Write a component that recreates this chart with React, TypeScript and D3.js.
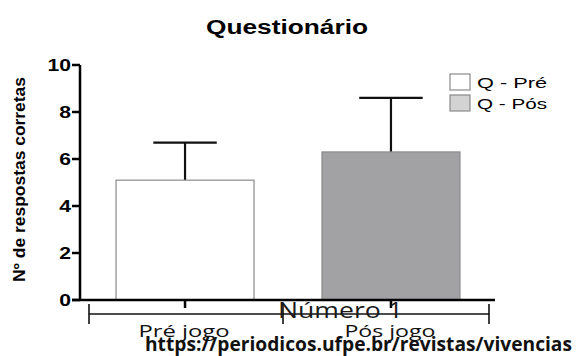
import React from 'react';
import * as d3 from 'd3';

const categories = ['Pré jogo', 'Pós jogo'];
const means = [5.1, 6.3];
const upperErrors = [6.7, 8.6];
const seriesNames = ['Q - Pré', 'Q - Pós'];
const barFills = ['#ffffff', '#a2a2a5'];
const legendFills = ['#ffffff', '#d3d3d3'];
const yTicks = [0, 2, 4, 6, 8, 10];

const W = 577;
const H = 356;
const axisFont = '"Liberation Sans", Arial, sans-serif';
const textFont = '"Open Sans", "Liberation Sans", sans-serif';

export default function App() {
  const y = d3.scaleLinear().domain([0, 10]).range([300, 65]);
  const x = d3
    .scaleBand<string>()
    .domain(categories)
    .range([80, 496])
    .paddingInner(0.33)
    .paddingOuter(0.175);
  const bw = x.bandwidth();
  const capW = bw * 0.46;

  return (
    <svg
      width={W}
      height={H}
      style={{ position: 'absolute', left: 0, top: 0, background: '#fff' }}
    >
      <text
        x={206}
        y={34}
        fontFamily={axisFont}
        fontWeight="bold"
        fontSize={19.5}
        textLength={162}
        lengthAdjust="spacingAndGlyphs"
      >
        Questionário
      </text>

      {/* y axis label */}
      <text
        transform={`translate(25,${(77 + 282) / 2}) rotate(-90)`}
        textAnchor="middle"
        fontFamily={axisFont}
        fontWeight="bold"
        fontSize={16.5}
        textLength={205}
        lengthAdjust="spacingAndGlyphs"
      >
        Nº de respostas corretas
      </text>

      {/* bars */}
      {categories.map((c, i) => (
        <g key={c}>
          <line
            x1={x(c)! + bw / 2}
            x2={x(c)! + bw / 2}
            y1={y(means[i])}
            y2={y(upperErrors[i])}
            stroke="#111"
            strokeWidth={2.2}
          />
          <line
            x1={x(c)! + bw / 2 - capW / 2}
            x2={x(c)! + bw / 2 + capW / 2}
            y1={y(upperErrors[i])}
            y2={y(upperErrors[i])}
            stroke="#111"
            strokeWidth={2.2}
          />
          <rect
            x={x(c)}
            y={y(means[i])}
            width={bw}
            height={y(0) - y(means[i])}
            fill={barFills[i]}
            stroke="#8a8a8a"
            strokeWidth={1.2}
          />
        </g>
      ))}

      {/* y axis */}
      <line x1={80} x2={80} y1={y(10)} y2={y(0)} stroke="#000" strokeWidth={2.5} />
      {yTicks.map((t) => (
        <g key={t}>
          <line x1={72} x2={80} y1={y(t)} y2={y(t)} stroke="#000" strokeWidth={2.5} />
          <text
            transform={`translate(71,${y(t)}) scale(1.28,1)`}
            dy="0.36em"
            textAnchor="end"
            fontFamily={axisFont}
            fontWeight="bold"
            fontSize={16.5}
          >
            {t}
          </text>
        </g>
      ))}

      {/* x axis */}
      <line x1={72} x2={495} y1={y(0)} y2={y(0)} stroke="#000" strokeWidth={2.5} />
      {categories.map((c) => (
        <line
          key={c}
          x1={x(c)! + bw / 2}
          x2={x(c)! + bw / 2}
          y1={y(0)}
          y2={y(0) + 8}
          stroke="#000"
          strokeWidth={2.5}
        />
      ))}

      {/* bracket overlay */}
      <g stroke="#111" strokeWidth={1.6}>
        <line x1={89} x2={489} y1={314} y2={314} />
        <line x1={89} x2={89} y1={304} y2={324} />
        <line x1={283} x2={283} y1={304} y2={324} />
        <line x1={489} x2={489} y1={304} y2={324} />
      </g>

      {/* category labels */}
      {categories.map((c) => (
        <text
          key={c}
          x={x(c)! + bw / 2 - 1}
          y={337}
          textAnchor="middle"
          fontFamily={textFont}
          fontSize={16}
          fontWeight={500}
          textLength={91}
          lengthAdjust="spacingAndGlyphs"
          fill="#111"
        >
          {c}
        </text>
      ))}

      <text
        x={278}
        y={318}
        fontFamily={textFont}
        fontSize={21}
        textLength={125}
        lengthAdjust="spacingAndGlyphs"
        fill="#1a1a1a"
      >
        Número 1
      </text>

      <text
        x={145}
        y={351}
        fontFamily={textFont}
        fontWeight="bold"
        fontSize={19}
        textLength={427}
        lengthAdjust="spacingAndGlyphs"
        fill="#111"
      >
        https://periodicos.ufpe.br/revistas/vivencias
      </text>

      {/* legend */}
      {seriesNames.map((s, i) => (
        <g key={s} transform={`translate(450,${74 + i * 21})`}>
          <rect width={20} height={16} fill={legendFills[i]} stroke="#8a8a8a" strokeWidth={1.2} />
          <text
            x={27}
            y={14}
            fontFamily={axisFont}
            fontSize={15.5}
            textLength={70}
            lengthAdjust="spacingAndGlyphs"
          >
            {s}
          </text>
        </g>
      ))}
    </svg>
  );
}
